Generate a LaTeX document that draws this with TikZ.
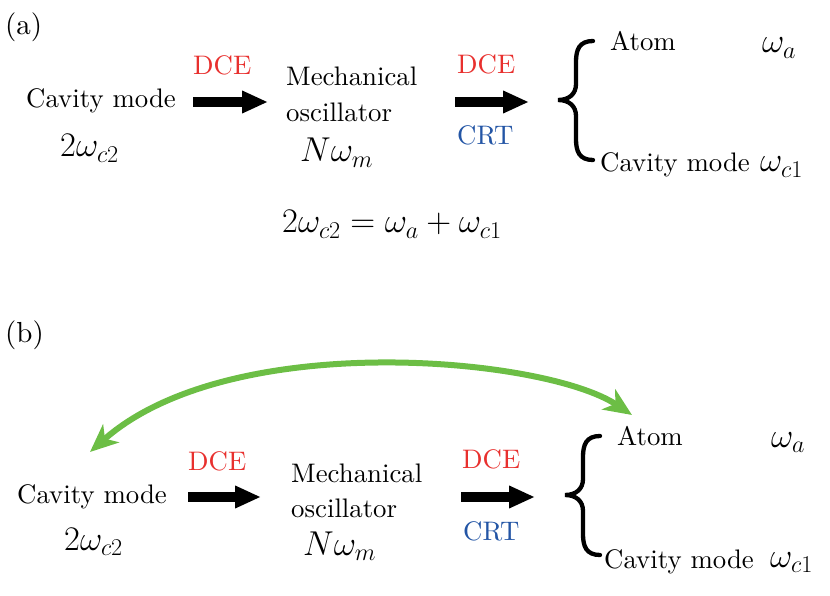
\RequirePackage{fix-cm}
\documentclass[tikz,border=0pt]{standalone}
\usepackage[no-math]{fontspec}
\setmainfont{lmroman10-regular}[Extension=.otf]
\usetikzlibrary{arrows.meta}
\definecolor{dcered}{RGB}{232,48,46}
\definecolor{crtblue}{RGB}{35,85,165}
\definecolor{lgreen}{RGB}{108,190,69}
\begin{document}
\begin{tikzpicture}[x=1pt,y=-1pt,
  txt/.style={anchor=base west,inner sep=0pt,font=\fontsize{26.8}{32}\selectfont},
  mth/.style={anchor=base west,inner sep=0pt,font=\fontsize{34.5}{40}\selectfont},
  lbl/.style={anchor=base west,inner sep=0pt,font=\fontsize{29}{35}\selectfont},
  dce/.style={txt,text=dcered},
  crt/.style={txt,text=crtblue},
  bigarrow/.style={line width=9.5pt,-{Triangle[length=26pt,width=21pt]}},
  swaparrow/.style={line width=6pt,draw=lgreen,
    {Stealth[length=28pt,width=24pt,inset=8pt,fill=lgreen]}-{Stealth[length=28pt,width=24pt,inset=8pt,fill=lgreen]}},
  bracestyle/.style={line width=4.3pt,line cap=round},
  mybrace/.pic={\draw[bracestyle] (35,-59) .. controls (21,-59) and (18,-50) .. (18,-38) -- (18,-16) .. controls (18,-6) and (11,0) .. (0,0) .. controls (11,0) and (18,6) .. (18,16) -- (18,39) .. controls (18,51) and (21,60) .. (35,60);}
]
\useasboundingbox (0,0) rectangle (830,596);

% ---------- (a) ----------
\node[lbl] (lbla) at (5,35) {(a)};
\node[txt] (cav1) at (26,108) {Cavity mode};
\node[mth] (freq1) at (60,157) {$2\omega_{c2}$};
\node[dce] (dce1) at (193,75) {DCE};
\node[txt] (mech1) at (286,86) {Mechanical};
\node[txt] (osc1) at (286,122) {oscillator};
\node[mth] (nw1) at (300,162) {$N\omega_m$};
\node[dce] (dce2) at (457,74) {DCE};
\node[crt] (crt1) at (457,145) {CRT};
\pic at (558,100) {mybrace};
\node[txt] (atom1) at (610,51) {Atom};
\node[mth] (wa1) at (762,53) {$\omega_a$};
\node[txt] (cavr1) at (600,172) {Cavity mode};
\node[mth] (wc1) at (760,172) {$\omega_{c1}$};
\node[mth] (eq) at (282,233) {$2\omega_{c2}=\omega_a+\omega_{c1}$};

\coordinate (a1s) at (193,102);
\coordinate (a1e) at (268,102);
\coordinate (a2s) at (455,102);
\coordinate (a2e) at (529,102);
\draw[bigarrow] (a1s) -- (a1e);
\draw[bigarrow] (a2s) -- (a2e);

% ---------- (b) ----------
\node[lbl] (lblb) at (5,342) {(b)};
\node[txt] (cav2) at (17,503) {Cavity mode};
\node[mth] (freq2) at (64,550) {$2\omega_{c2}$};
\node[dce] (dce3) at (188,470) {DCE};
\node[txt] (mech2) at (291,482) {Mechanical};
\node[txt] (osc2) at (291,517) {oscillator};
\node[mth] (nw2) at (303,555) {$N\omega_m$};
\node[dce] (dce4) at (462,468) {DCE};
\node[crt] (crt2) at (463,540) {CRT};
\pic at (565,495) {mybrace};
\node[txt] (atom2) at (617,445) {Atom};
\node[mth] (wa2) at (771,447) {$\omega_a$};
\node[txt] (cavr2) at (604,568) {Cavity mode};
\node[mth] (wc2) at (770,567) {$\omega_{c1}$};

\coordinate (b1s) at (188,497);
\coordinate (b1e) at (261,497);
\coordinate (b2s) at (461,497);
\coordinate (b2e) at (535,497);
\draw[bigarrow] (b1s) -- (b1e);
\draw[bigarrow] (b2s) -- (b2e);

\coordinate (gl) at (90,452);
\coordinate (gr) at (632,415);
\draw[swaparrow] (gl) .. controls (230,328) and (545,357) .. (gr);
\end{tikzpicture}
\end{document}
